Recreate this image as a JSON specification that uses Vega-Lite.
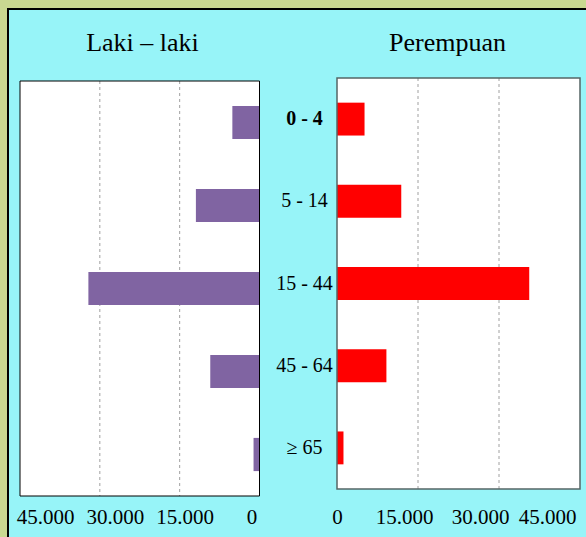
{
  "$schema": "https://vega.github.io/schema/vega-lite/v6.json",
  "width": 579,
  "height": 529,
  "autosize": {"type": "none"},
  "padding": {"left": 8, "top": 9, "right": -1, "bottom": -1},
  "background": "#c9d891",
  "config": {
    "font": "Liberation Serif",
    "view": {"fill": "#97f4f8", "stroke": "#000000", "strokeWidth": 2}
  },
  "data": {
    "values": [
      {"age": "0 - 4", "L": 5100, "P": 5100},
      {"age": "5 - 14", "L": 11950, "P": 11900},
      {"age": "15 - 44", "L": 32150, "P": 35600},
      {"age": "45 - 64", "L": 9250, "P": 9150},
      {"age": "≥ 65", "L": 1120, "P": 1200}
    ]
  },
  "layer": [
    {
      "layer": [
        {
          "data": {"values": [{}]},
          "mark": {"type": "rect", "fill": "#ffffff"},
          "encoding": {
            "x": {"datum": 0, "type": "quantitative", "scale": {"domain": [0, 45000], "range": [251.5, 12], "nice": false, "zero": false},
              "axis": {"orient": "bottom", "offset": -42, "values": [0, 15000, 30000, 45000], "labelExpr": "replace(format(datum.value, ','), ',', '.')", "domain": false, "ticks": false, "tickSize": 0, "grid": false, "labelPadding": 27, "labelBaseline": "alphabetic", "labelAlign": "center", "labelFlush": false, "labelOverlap": false, "labelFontSize": 21, "labelColor": "#000000", "labelFont": "Liberation Serif",
                "labelOffset": {"condition": [{"test": "datum.value === 45000", "value": 25}, {"test": "datum.value === 30000", "value": 15}, {"test": "datum.value === 15000", "value": 5}], "value": -8},
                "title": "Laki – laki", "titleFontSize": 26, "titleFontWeight": "normal", "titleFont": "Liberation Serif", "titleColor": "#000000", "titleX": 134, "titleY": -446, "titleAlign": "center", "titleBaseline": "alphabetic"}},
            "x2": {"datum": 45000},
            "y": {"datum": 0, "type": "quantitative", "scale": {"domain": [0, 1], "range": [72, 487], "nice": false, "zero": false}, "axis": null},
            "y2": {"datum": 1}
          }
        },
        {
          "data": {"values": [{"v": 15000}, {"v": 30000}]},
          "mark": {"type": "rule", "color": "#a0a0a0", "strokeDash": [3, 3], "strokeWidth": 1},
          "encoding": {
            "x": {"field": "v", "type": "quantitative", "scale": {"domain": [0, 45000], "range": [251.5, 12], "nice": false, "zero": false}},
            "y": {"datum": 0, "type": "quantitative", "scale": {"domain": [0, 1], "range": [72, 487], "nice": false, "zero": false}, "axis": null},
            "y2": {"datum": 1}
          }
        },
        {
          "mark": {"type": "bar", "color": "#8064a2"},
          "encoding": {
            "x": {"field": "L", "type": "quantitative", "scale": {"domain": [0, 45000], "range": [251.5, 12], "nice": false, "zero": false}},
            "y": {"field": "age", "type": "nominal", "scale": {"domain": ["0 - 4", "5 - 14", "15 - 44", "45 - 64", "≥ 65"], "range": [72, 487], "paddingInner": 0.6, "paddingOuter": 0.3}, "axis": null}
          }
        },
        {
          "data": {"values": [{}]},
          "mark": {"type": "rect", "fill": null, "stroke": "#000000", "strokeWidth": 1},
          "encoding": {
            "x": {"datum": 0, "type": "quantitative", "scale": {"domain": [0, 45000], "range": [251.5, 12], "nice": false, "zero": false}},
            "x2": {"datum": 45000},
            "y": {"datum": 0, "type": "quantitative", "scale": {"domain": [0, 1], "range": [72, 487], "nice": false, "zero": false}, "axis": null},
            "y2": {"datum": 1}
          }
        }
      ],
      "resolve": {"scale": {"y": "independent"}}
    },
    {
      "layer": [
        {
          "data": {"values": [{}]},
          "mark": {"type": "rect", "fill": "#ffffff"},
          "encoding": {
            "x": {"datum": 0, "type": "quantitative", "scale": {"domain": [0, 45000], "range": [329, 572], "nice": false, "zero": false},
              "axis": {"orient": "bottom", "offset": -49, "values": [0, 15000, 30000, 45000], "labelExpr": "replace(format(datum.value, ','), ',', '.')", "domain": false, "ticks": false, "tickSize": 0, "grid": false, "labelPadding": 34, "labelBaseline": "alphabetic", "labelAlign": "center", "labelFlush": false, "labelOverlap": false, "labelFontSize": 21, "labelColor": "#000000", "labelFont": "Liberation Serif",
                "labelOffset": {"condition": [{"test": "datum.value === 15000", "value": -14}, {"test": "datum.value === 30000", "value": -19}, {"test": "datum.value === 45000", "value": -33}], "value": 0},
                "title": "Perempuan", "titleFontSize": 26, "titleFontWeight": "normal", "titleFont": "Liberation Serif", "titleColor": "#000000", "titleX": 439, "titleY": -439, "titleAlign": "center", "titleBaseline": "alphabetic"}},
            "x2": {"datum": 45000},
            "y": {"datum": 0, "type": "quantitative", "scale": {"domain": [0, 1], "range": [69, 480], "nice": false, "zero": false}, "axis": null},
            "y2": {"datum": 1}
          }
        },
        {
          "data": {"values": [{"v": 15000}, {"v": 30000}]},
          "mark": {"type": "rule", "color": "#a0a0a0", "strokeDash": [3, 3], "strokeWidth": 1},
          "encoding": {
            "x": {"field": "v", "type": "quantitative", "scale": {"domain": [0, 45000], "range": [329, 572], "nice": false, "zero": false}},
            "y": {"datum": 0, "type": "quantitative", "scale": {"domain": [0, 1], "range": [69, 480], "nice": false, "zero": false}, "axis": null},
            "y2": {"datum": 1}
          }
        },
        {
          "mark": {"type": "bar", "color": "#ff0000"},
          "encoding": {
            "x": {"field": "P", "type": "quantitative", "scale": {"domain": [0, 45000], "range": [329, 572], "nice": false, "zero": false}},
            "y": {"field": "age", "type": "nominal", "scale": {"domain": ["0 - 4", "5 - 14", "15 - 44", "45 - 64", "≥ 65"], "range": [69, 480], "paddingInner": 0.6, "paddingOuter": 0.3},
              "axis": {"orient": "left", "offset": -329, "domain": false, "ticks": false, "tickSize": 0, "grid": false, "labelPadding": 33, "labelAlign": "center", "labelBaseline": "middle", "labelFontSize": 20, "labelColor": "#000000", "labelFont": "Liberation Serif", "labelLimit": 0, "labelOverlap": false,
                "labelFontWeight": {"condition": {"test": "datum.value === '0 - 4'", "value": "bold"}, "value": "normal"}, "title": null}}
          }
        },
        {
          "data": {"values": [{}]},
          "mark": {"type": "rect", "fill": null, "stroke": "#556666", "strokeWidth": 1.5},
          "encoding": {
            "x": {"datum": 0, "type": "quantitative", "scale": {"domain": [0, 45000], "range": [329, 572], "nice": false, "zero": false}},
            "x2": {"datum": 45000},
            "y": {"datum": 0, "type": "quantitative", "scale": {"domain": [0, 1], "range": [69, 480], "nice": false, "zero": false}, "axis": null},
            "y2": {"datum": 1}
          }
        }
      ],
      "resolve": {"scale": {"y": "independent"}}
    }
  ],
  "resolve": {"scale": {"x": "independent", "y": "independent"}}
}
